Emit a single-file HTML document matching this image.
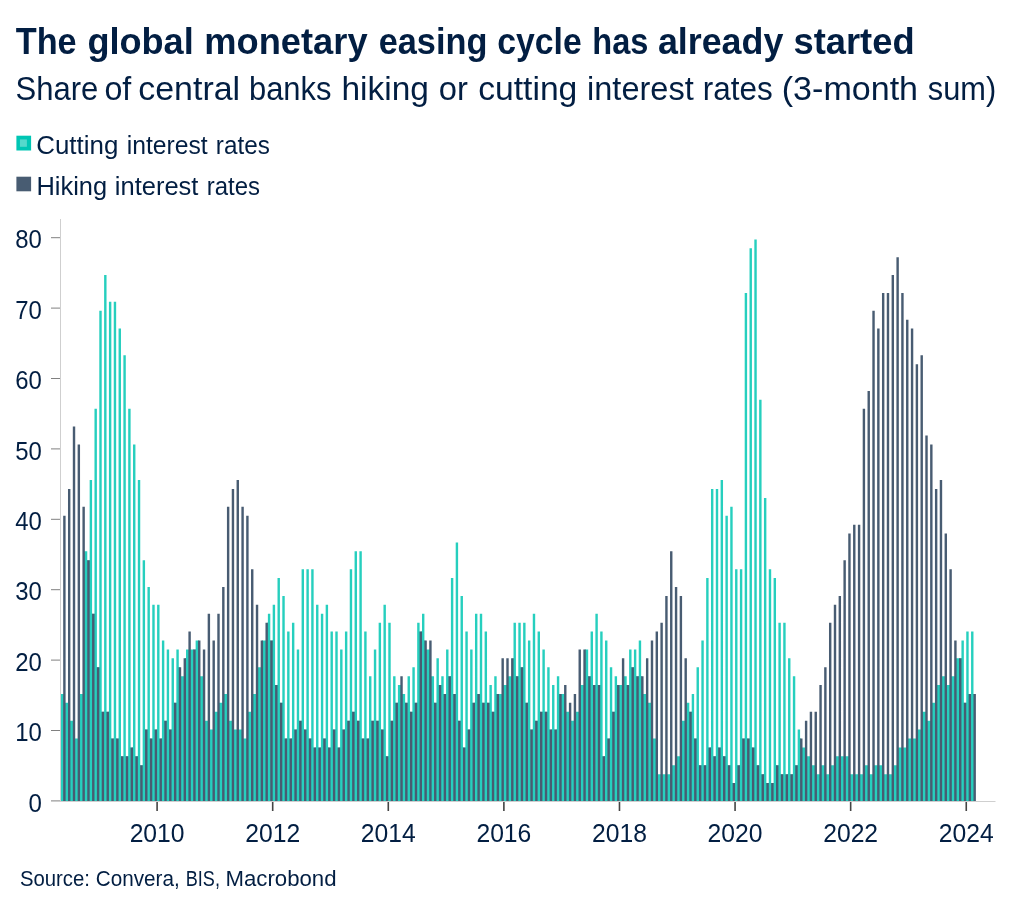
<!DOCTYPE html>
<html><head><meta charset="utf-8"><title>Global monetary easing</title>
<style>
html,body{margin:0;padding:0;background:#fff;}
body{width:1024px;height:912px;overflow:hidden;}
svg{display:block;font-family:"Liberation Sans",sans-serif;will-change:transform;}
</style></head><body>
<svg width="1024" height="912" viewBox="0 0 1024 912">
<rect width="1024" height="912" fill="#fff"/>
<g font-size="36" font-weight="bold" fill="#021e42"><text x="15.70" textLength="60.97" lengthAdjust="spacingAndGlyphs" y="54">The</text><text x="87.40" textLength="106.31" lengthAdjust="spacingAndGlyphs" y="54">global</text><text x="204.28" textLength="163.34" lengthAdjust="spacingAndGlyphs" y="54">monetary</text><text x="378.65" textLength="108.75" lengthAdjust="spacingAndGlyphs" y="54">easing</text><text x="497.26" textLength="84.50" lengthAdjust="spacingAndGlyphs" y="54">cycle</text><text x="592.29" textLength="56.13" lengthAdjust="spacingAndGlyphs" y="54">has</text><text x="657.91" textLength="125.42" lengthAdjust="spacingAndGlyphs" y="54">already</text><text x="793.49" textLength="121.12" lengthAdjust="spacingAndGlyphs" y="54">started</text></g>
<g font-size="33.5" fill="#021e42"><text x="15.57" textLength="82.81" lengthAdjust="spacingAndGlyphs" y="99.6">Share</text><text x="104.44" textLength="26.90" lengthAdjust="spacingAndGlyphs" y="99.6">of</text><text x="138.19" textLength="101.98" lengthAdjust="spacingAndGlyphs" y="99.6">central</text><text x="248.95" textLength="82.54" lengthAdjust="spacingAndGlyphs" y="99.6">banks</text><text x="341.50" textLength="87.43" lengthAdjust="spacingAndGlyphs" y="99.6">hiking</text><text x="438.82" textLength="29.13" lengthAdjust="spacingAndGlyphs" y="99.6">or</text><text x="478.20" textLength="99.14" lengthAdjust="spacingAndGlyphs" y="99.6">cutting</text><text x="587.06" textLength="106.67" lengthAdjust="spacingAndGlyphs" y="99.6">interest</text><text x="702.72" textLength="69.88" lengthAdjust="spacingAndGlyphs" y="99.6">rates</text><text x="781.77" textLength="136.29" lengthAdjust="spacingAndGlyphs" y="99.6">(3-month</text><text x="927.80" textLength="68.36" lengthAdjust="spacingAndGlyphs" y="99.6">sum)</text></g>
<rect x="16.4" y="135.7" width="14.7" height="14.8" fill="#00c6b4"/>
<rect x="19.9" y="139.4" width="7" height="7.4" fill="#55d9cc"/>
<rect x="16.4" y="176.7" width="14.7" height="14.6" fill="#485c72"/>
<g font-size="25" fill="#021e42"><text x="36.26" textLength="82.07" lengthAdjust="spacingAndGlyphs" y="153.6">Cutting</text><text x="126.71" textLength="80.93" lengthAdjust="spacingAndGlyphs" y="153.6">interest</text><text x="215.83" textLength="53.96" lengthAdjust="spacingAndGlyphs" y="153.6">rates</text></g>
<g font-size="25" fill="#021e42"><text x="36.47" textLength="70.65" lengthAdjust="spacingAndGlyphs" y="194.7">Hiking</text><text x="114.88" textLength="83.56" lengthAdjust="spacingAndGlyphs" y="194.7">interest</text><text x="206.74" textLength="53.24" lengthAdjust="spacingAndGlyphs" y="194.7">rates</text></g>
<path d="M60.77 693.96h2.41v106.94h-2.41zM62.98 693.96h1.2v106.94h-1.2zM65.59 702.87h2.41v98.03h-2.41zM67.79 702.87h1.2v98.03h-1.2zM64.59 702.87h1.2v98.03h-1.2zM70.4 720.69h2.41v80.21h-2.41zM72.61 720.69h1.2v80.21h-1.2zM69.4 720.69h1.2v80.21h-1.2zM75.22 738.52h2.41v62.38h-2.41zM77.43 738.52h1.2v62.38h-1.2zM74.22 738.52h1.2v62.38h-1.2zM80.04 693.96h2.41v106.94h-2.41zM82.24 693.96h1.2v106.94h-1.2zM79.04 693.96h1.2v106.94h-1.2zM84.85 551.36h2.41v249.54h-2.41zM87.06 560.28h1.2v240.62h-1.2zM83.85 551.36h1.2v249.54h-1.2zM89.67 480.07h2.41v320.83h-2.41zM91.88 613.75h1.2v187.15h-1.2zM88.67 560.28h1.2v240.62h-1.2zM94.48 408.77h2.41v392.13h-2.41zM96.69 667.22h1.2v133.68h-1.2zM93.48 613.75h1.2v187.15h-1.2zM99.3 310.74h2.41v490.16h-2.41zM101.51 711.78h1.2v89.12h-1.2zM98.3 667.22h1.2v133.68h-1.2zM104.12 275.09h2.41v525.81h-2.41zM106.33 711.78h1.2v89.12h-1.2zM103.12 711.78h1.2v89.12h-1.2zM108.93 301.83h2.41v499.07h-2.41zM111.14 738.52h1.2v62.38h-1.2zM107.93 711.78h1.2v89.12h-1.2zM113.75 301.83h2.41v499.07h-2.41zM115.96 738.52h1.2v62.38h-1.2zM112.75 738.52h1.2v62.38h-1.2zM118.57 328.56h2.41v472.34h-2.41zM120.77 756.34h1.2v44.56h-1.2zM117.57 738.52h1.2v62.38h-1.2zM123.38 355.3h2.41v445.6h-2.41zM125.59 756.34h1.2v44.56h-1.2zM122.38 756.34h1.2v44.56h-1.2zM128.2 408.77h2.41v392.13h-2.41zM130.41 747.43h1.2v53.47h-1.2zM127.2 756.34h1.2v44.56h-1.2zM133.02 444.42h2.41v356.48h-2.41zM135.22 756.34h1.2v44.56h-1.2zM132.02 747.43h1.2v53.47h-1.2zM137.83 480.07h2.41v320.83h-2.41zM140.04 765.25h1.2v35.65h-1.2zM136.83 756.34h1.2v44.56h-1.2zM142.65 560.28h2.41v240.62h-2.41zM144.86 729.6h1.2v71.3h-1.2zM141.65 765.25h1.2v35.65h-1.2zM147.47 587.01h2.41v213.89h-2.41zM149.67 738.52h1.2v62.38h-1.2zM146.47 729.6h1.2v71.3h-1.2zM152.28 604.84h2.41v196.06h-2.41zM154.49 729.6h1.2v71.3h-1.2zM151.28 738.52h1.2v62.38h-1.2zM157.1 604.84h2.41v196.06h-2.41zM159.31 738.52h1.2v62.38h-1.2zM156.1 729.6h1.2v71.3h-1.2zM161.91 640.48h2.41v160.42h-2.41zM164.12 720.69h1.2v80.21h-1.2zM160.91 738.52h1.2v62.38h-1.2zM166.73 649.4h2.41v151.5h-2.41zM168.94 729.6h1.2v71.3h-1.2zM165.73 720.69h1.2v80.21h-1.2zM171.55 658.31h2.41v142.59h-2.41zM173.76 702.87h1.2v98.03h-1.2zM170.55 729.6h1.2v71.3h-1.2zM176.36 649.4h2.41v151.5h-2.41zM178.57 667.22h1.2v133.68h-1.2zM175.36 702.87h1.2v98.03h-1.2zM181.18 676.13h2.41v124.77h-2.41zM183.39 676.13h1.2v124.77h-1.2zM180.18 676.13h1.2v124.77h-1.2zM186 649.4h2.41v151.5h-2.41zM188.2 649.4h1.2v151.5h-1.2zM185 658.31h1.2v142.59h-1.2zM190.81 649.4h2.41v151.5h-2.41zM193.02 649.4h1.2v151.5h-1.2zM189.81 649.4h1.2v151.5h-1.2zM195.63 640.48h2.41v160.42h-2.41zM197.84 640.48h1.2v160.42h-1.2zM194.63 649.4h1.2v151.5h-1.2zM200.45 676.13h2.41v124.77h-2.41zM202.65 676.13h1.2v124.77h-1.2zM199.45 676.13h1.2v124.77h-1.2zM205.26 720.69h2.41v80.21h-2.41zM207.47 720.69h1.2v80.21h-1.2zM204.26 720.69h1.2v80.21h-1.2zM210.08 729.6h2.41v71.3h-2.41zM212.29 729.6h1.2v71.3h-1.2zM209.08 729.6h1.2v71.3h-1.2zM214.89 711.78h2.41v89.12h-2.41zM217.1 711.78h1.2v89.12h-1.2zM213.89 711.78h1.2v89.12h-1.2zM219.71 702.87h2.41v98.03h-2.41zM221.92 702.87h1.2v98.03h-1.2zM218.71 702.87h1.2v98.03h-1.2zM224.53 693.96h2.41v106.94h-2.41zM226.74 693.96h1.2v106.94h-1.2zM223.53 693.96h1.2v106.94h-1.2zM229.34 720.69h2.41v80.21h-2.41zM231.55 720.69h1.2v80.21h-1.2zM228.34 720.69h1.2v80.21h-1.2zM234.16 729.6h2.41v71.3h-2.41zM236.37 729.6h1.2v71.3h-1.2zM233.16 729.6h1.2v71.3h-1.2zM238.98 729.6h2.41v71.3h-2.41zM241.18 729.6h1.2v71.3h-1.2zM237.98 729.6h1.2v71.3h-1.2zM243.79 738.52h2.41v62.38h-2.41zM246 738.52h1.2v62.38h-1.2zM242.79 738.52h1.2v62.38h-1.2zM248.61 711.78h2.41v89.12h-2.41zM250.82 711.78h1.2v89.12h-1.2zM247.61 711.78h1.2v89.12h-1.2zM253.43 693.96h2.41v106.94h-2.41zM255.63 693.96h1.2v106.94h-1.2zM252.43 693.96h1.2v106.94h-1.2zM258.24 667.22h2.41v133.68h-2.41zM260.45 667.22h1.2v133.68h-1.2zM257.24 667.22h1.2v133.68h-1.2zM263.06 640.48h2.41v160.42h-2.41zM265.27 640.48h1.2v160.42h-1.2zM262.06 640.48h1.2v160.42h-1.2zM267.88 613.75h2.41v187.15h-2.41zM270.08 640.48h1.2v160.42h-1.2zM266.88 622.66h1.2v178.24h-1.2zM272.69 604.84h2.41v196.06h-2.41zM274.9 685.04h1.2v115.86h-1.2zM271.69 640.48h1.2v160.42h-1.2zM277.51 578.1h2.41v222.8h-2.41zM279.72 702.87h1.2v98.03h-1.2zM276.51 685.04h1.2v115.86h-1.2zM282.32 595.92h2.41v204.98h-2.41zM284.53 738.52h1.2v62.38h-1.2zM281.32 702.87h1.2v98.03h-1.2zM287.14 631.57h2.41v169.33h-2.41zM289.35 738.52h1.2v62.38h-1.2zM286.14 738.52h1.2v62.38h-1.2zM291.96 622.66h2.41v178.24h-2.41zM294.17 729.6h1.2v71.3h-1.2zM290.96 738.52h1.2v62.38h-1.2zM296.77 649.4h2.41v151.5h-2.41zM298.98 720.69h1.2v80.21h-1.2zM295.77 729.6h1.2v71.3h-1.2zM301.59 569.19h2.41v231.71h-2.41zM303.8 729.6h1.2v71.3h-1.2zM300.59 720.69h1.2v80.21h-1.2zM306.41 569.19h2.41v231.71h-2.41zM308.61 738.52h1.2v62.38h-1.2zM305.41 729.6h1.2v71.3h-1.2zM311.22 569.19h2.41v231.71h-2.41zM313.43 747.43h1.2v53.47h-1.2zM310.22 738.52h1.2v62.38h-1.2zM316.04 604.84h2.41v196.06h-2.41zM318.25 747.43h1.2v53.47h-1.2zM315.04 747.43h1.2v53.47h-1.2zM320.86 613.75h2.41v187.15h-2.41zM323.06 738.52h1.2v62.38h-1.2zM319.86 747.43h1.2v53.47h-1.2zM325.67 604.84h2.41v196.06h-2.41zM327.88 747.43h1.2v53.47h-1.2zM324.67 738.52h1.2v62.38h-1.2zM330.49 631.57h2.41v169.33h-2.41zM332.7 729.6h1.2v71.3h-1.2zM329.49 747.43h1.2v53.47h-1.2zM335.3 631.57h2.41v169.33h-2.41zM337.51 747.43h1.2v53.47h-1.2zM334.3 729.6h1.2v71.3h-1.2zM340.12 649.4h2.41v151.5h-2.41zM342.33 729.6h1.2v71.3h-1.2zM339.12 747.43h1.2v53.47h-1.2zM344.94 631.57h2.41v169.33h-2.41zM347.15 720.69h1.2v80.21h-1.2zM343.94 729.6h1.2v71.3h-1.2zM349.75 569.19h2.41v231.71h-2.41zM351.96 711.78h1.2v89.12h-1.2zM348.75 720.69h1.2v80.21h-1.2zM354.57 551.36h2.41v249.54h-2.41zM356.78 720.69h1.2v80.21h-1.2zM353.57 711.78h1.2v89.12h-1.2zM359.39 551.36h2.41v249.54h-2.41zM361.59 738.52h1.2v62.38h-1.2zM358.39 720.69h1.2v80.21h-1.2zM364.2 631.57h2.41v169.33h-2.41zM366.41 738.52h1.2v62.38h-1.2zM363.2 738.52h1.2v62.38h-1.2zM369.02 676.13h2.41v124.77h-2.41zM371.23 720.69h1.2v80.21h-1.2zM368.02 738.52h1.2v62.38h-1.2zM373.84 649.4h2.41v151.5h-2.41zM376.04 720.69h1.2v80.21h-1.2zM372.84 720.69h1.2v80.21h-1.2zM378.65 622.66h2.41v178.24h-2.41zM380.86 729.6h1.2v71.3h-1.2zM377.65 720.69h1.2v80.21h-1.2zM383.47 604.84h2.41v196.06h-2.41zM385.68 756.34h1.2v44.56h-1.2zM382.47 729.6h1.2v71.3h-1.2zM388.29 622.66h2.41v178.24h-2.41zM390.49 720.69h1.2v80.21h-1.2zM387.29 756.34h1.2v44.56h-1.2zM393.1 676.13h2.41v124.77h-2.41zM395.31 702.87h1.2v98.03h-1.2zM392.1 720.69h1.2v80.21h-1.2zM397.92 685.04h2.41v115.86h-2.41zM400.13 685.04h1.2v115.86h-1.2zM396.92 702.87h1.2v98.03h-1.2zM402.73 693.96h2.41v106.94h-2.41zM404.94 702.87h1.2v98.03h-1.2zM401.73 693.96h1.2v106.94h-1.2zM407.55 676.13h2.41v124.77h-2.41zM409.76 711.78h1.2v89.12h-1.2zM406.55 702.87h1.2v98.03h-1.2zM412.37 667.22h2.41v133.68h-2.41zM414.58 702.87h1.2v98.03h-1.2zM411.37 711.78h1.2v89.12h-1.2zM417.18 622.66h2.41v178.24h-2.41zM419.39 631.57h1.2v169.33h-1.2zM416.18 702.87h1.2v98.03h-1.2zM422 613.75h2.41v187.15h-2.41zM424.21 640.48h1.2v160.42h-1.2zM421 631.57h1.2v169.33h-1.2zM426.82 649.4h2.41v151.5h-2.41zM429.02 649.4h1.2v151.5h-1.2zM425.82 649.4h1.2v151.5h-1.2zM431.63 676.13h2.41v124.77h-2.41zM433.84 702.87h1.2v98.03h-1.2zM430.63 676.13h1.2v124.77h-1.2zM436.45 658.31h2.41v142.59h-2.41zM438.66 685.04h1.2v115.86h-1.2zM435.45 702.87h1.2v98.03h-1.2zM441.27 676.13h2.41v124.77h-2.41zM443.47 693.96h1.2v106.94h-1.2zM440.27 685.04h1.2v115.86h-1.2zM446.08 649.4h2.41v151.5h-2.41zM448.29 676.13h1.2v124.77h-1.2zM445.08 693.96h1.2v106.94h-1.2zM450.9 578.1h2.41v222.8h-2.41zM453.11 693.96h1.2v106.94h-1.2zM449.9 676.13h1.2v124.77h-1.2zM455.71 542.45h2.41v258.45h-2.41zM457.92 720.69h1.2v80.21h-1.2zM454.71 693.96h1.2v106.94h-1.2zM460.53 595.92h2.41v204.98h-2.41zM462.74 747.43h1.2v53.47h-1.2zM459.53 720.69h1.2v80.21h-1.2zM465.35 631.57h2.41v169.33h-2.41zM467.56 729.6h1.2v71.3h-1.2zM464.35 747.43h1.2v53.47h-1.2zM470.16 649.4h2.41v151.5h-2.41zM472.37 702.87h1.2v98.03h-1.2zM469.16 729.6h1.2v71.3h-1.2zM474.98 613.75h2.41v187.15h-2.41zM477.19 693.96h1.2v106.94h-1.2zM473.98 702.87h1.2v98.03h-1.2zM479.8 613.75h2.41v187.15h-2.41zM482 702.87h1.2v98.03h-1.2zM478.8 693.96h1.2v106.94h-1.2zM484.61 631.57h2.41v169.33h-2.41zM486.82 702.87h1.2v98.03h-1.2zM483.61 702.87h1.2v98.03h-1.2zM489.43 685.04h2.41v115.86h-2.41zM491.64 711.78h1.2v89.12h-1.2zM488.43 702.87h1.2v98.03h-1.2zM494.25 676.13h2.41v124.77h-2.41zM496.45 693.96h1.2v106.94h-1.2zM493.25 711.78h1.2v89.12h-1.2zM499.06 693.96h2.41v106.94h-2.41zM501.27 693.96h1.2v106.94h-1.2zM498.06 693.96h1.2v106.94h-1.2zM503.88 685.04h2.41v115.86h-2.41zM506.09 685.04h1.2v115.86h-1.2zM502.88 685.04h1.2v115.86h-1.2zM508.7 676.13h2.41v124.77h-2.41zM510.9 676.13h1.2v124.77h-1.2zM507.7 676.13h1.2v124.77h-1.2zM513.51 622.66h2.41v178.24h-2.41zM515.72 676.13h1.2v124.77h-1.2zM512.51 658.31h1.2v142.59h-1.2zM518.33 622.66h2.41v178.24h-2.41zM520.54 667.22h1.2v133.68h-1.2zM517.33 676.13h1.2v124.77h-1.2zM523.14 622.66h2.41v178.24h-2.41zM525.35 702.87h1.2v98.03h-1.2zM522.14 667.22h1.2v133.68h-1.2zM527.96 640.48h2.41v160.42h-2.41zM530.17 729.6h1.2v71.3h-1.2zM526.96 702.87h1.2v98.03h-1.2zM532.78 613.75h2.41v187.15h-2.41zM534.99 720.69h1.2v80.21h-1.2zM531.78 729.6h1.2v71.3h-1.2zM537.59 631.57h2.41v169.33h-2.41zM539.8 711.78h1.2v89.12h-1.2zM536.59 720.69h1.2v80.21h-1.2zM542.41 649.4h2.41v151.5h-2.41zM544.62 711.78h1.2v89.12h-1.2zM541.41 711.78h1.2v89.12h-1.2zM547.23 667.22h2.41v133.68h-2.41zM549.43 729.6h1.2v71.3h-1.2zM546.23 711.78h1.2v89.12h-1.2zM552.04 685.04h2.41v115.86h-2.41zM554.25 729.6h1.2v71.3h-1.2zM551.04 729.6h1.2v71.3h-1.2zM556.86 676.13h2.41v124.77h-2.41zM559.07 693.96h1.2v106.94h-1.2zM555.86 729.6h1.2v71.3h-1.2zM561.68 693.96h2.41v106.94h-2.41zM563.88 693.96h1.2v106.94h-1.2zM560.68 693.96h1.2v106.94h-1.2zM566.49 711.78h2.41v89.12h-2.41zM568.7 711.78h1.2v89.12h-1.2zM565.49 711.78h1.2v89.12h-1.2zM571.31 720.69h2.41v80.21h-2.41zM573.52 720.69h1.2v80.21h-1.2zM570.31 720.69h1.2v80.21h-1.2zM576.12 711.78h2.41v89.12h-2.41zM578.33 711.78h1.2v89.12h-1.2zM575.12 711.78h1.2v89.12h-1.2zM580.94 685.04h2.41v115.86h-2.41zM583.15 685.04h1.2v115.86h-1.2zM579.94 685.04h1.2v115.86h-1.2zM585.76 649.4h2.41v151.5h-2.41zM587.97 676.13h1.2v124.77h-1.2zM584.76 649.4h1.2v151.5h-1.2zM590.57 631.57h2.41v169.33h-2.41zM592.78 685.04h1.2v115.86h-1.2zM589.57 676.13h1.2v124.77h-1.2zM595.39 613.75h2.41v187.15h-2.41zM597.6 685.04h1.2v115.86h-1.2zM594.39 685.04h1.2v115.86h-1.2zM600.21 631.57h2.41v169.33h-2.41zM602.41 756.34h1.2v44.56h-1.2zM599.21 685.04h1.2v115.86h-1.2zM605.02 640.48h2.41v160.42h-2.41zM607.23 738.52h1.2v62.38h-1.2zM604.02 756.34h1.2v44.56h-1.2zM609.84 667.22h2.41v133.68h-2.41zM612.05 711.78h1.2v89.12h-1.2zM608.84 738.52h1.2v62.38h-1.2zM614.66 676.13h2.41v124.77h-2.41zM616.86 685.04h1.2v115.86h-1.2zM613.66 711.78h1.2v89.12h-1.2zM619.47 685.04h2.41v115.86h-2.41zM621.68 685.04h1.2v115.86h-1.2zM618.47 685.04h1.2v115.86h-1.2zM624.29 676.13h2.41v124.77h-2.41zM626.5 685.04h1.2v115.86h-1.2zM623.29 676.13h1.2v124.77h-1.2zM629.11 649.4h2.41v151.5h-2.41zM631.31 667.22h1.2v133.68h-1.2zM628.11 685.04h1.2v115.86h-1.2zM633.92 649.4h2.41v151.5h-2.41zM636.13 676.13h1.2v124.77h-1.2zM632.92 667.22h1.2v133.68h-1.2zM638.74 640.48h2.41v160.42h-2.41zM640.95 676.13h1.2v124.77h-1.2zM637.74 676.13h1.2v124.77h-1.2zM643.55 693.96h2.41v106.94h-2.41zM645.76 693.96h1.2v106.94h-1.2zM642.55 693.96h1.2v106.94h-1.2zM648.37 702.87h2.41v98.03h-2.41zM650.58 702.87h1.2v98.03h-1.2zM647.37 702.87h1.2v98.03h-1.2zM653.19 738.52h2.41v62.38h-2.41zM655.4 738.52h1.2v62.38h-1.2zM652.19 738.52h1.2v62.38h-1.2zM658 774.16h2.41v26.74h-2.41zM660.21 774.16h1.2v26.74h-1.2zM657 774.16h1.2v26.74h-1.2zM662.82 774.16h2.41v26.74h-2.41zM665.03 774.16h1.2v26.74h-1.2zM661.82 774.16h1.2v26.74h-1.2zM667.64 774.16h2.41v26.74h-2.41zM669.84 774.16h1.2v26.74h-1.2zM666.64 774.16h1.2v26.74h-1.2zM672.45 765.25h2.41v35.65h-2.41zM674.66 765.25h1.2v35.65h-1.2zM671.45 765.25h1.2v35.65h-1.2zM677.27 756.34h2.41v44.56h-2.41zM679.48 756.34h1.2v44.56h-1.2zM676.27 756.34h1.2v44.56h-1.2zM682.09 720.69h2.41v80.21h-2.41zM684.29 720.69h1.2v80.21h-1.2zM681.09 720.69h1.2v80.21h-1.2zM686.9 702.87h2.41v98.03h-2.41zM689.11 711.78h1.2v89.12h-1.2zM685.9 702.87h1.2v98.03h-1.2zM691.72 693.96h2.41v106.94h-2.41zM693.93 738.52h1.2v62.38h-1.2zM690.72 711.78h1.2v89.12h-1.2zM696.53 667.22h2.41v133.68h-2.41zM698.74 765.25h1.2v35.65h-1.2zM695.53 738.52h1.2v62.38h-1.2zM701.35 640.48h2.41v160.42h-2.41zM703.56 765.25h1.2v35.65h-1.2zM700.35 765.25h1.2v35.65h-1.2zM706.17 578.1h2.41v222.8h-2.41zM708.38 747.43h1.2v53.47h-1.2zM705.17 765.25h1.2v35.65h-1.2zM710.98 488.98h2.41v311.92h-2.41zM713.19 756.34h1.2v44.56h-1.2zM709.98 747.43h1.2v53.47h-1.2zM715.8 488.98h2.41v311.92h-2.41zM718.01 747.43h1.2v53.47h-1.2zM714.8 756.34h1.2v44.56h-1.2zM720.62 480.07h2.41v320.83h-2.41zM722.82 756.34h1.2v44.56h-1.2zM719.62 747.43h1.2v53.47h-1.2zM725.43 515.72h2.41v285.18h-2.41zM727.64 765.25h1.2v35.65h-1.2zM724.43 756.34h1.2v44.56h-1.2zM730.25 506.8h2.41v294.1h-2.41zM732.46 783.08h1.2v17.82h-1.2zM729.25 765.25h1.2v35.65h-1.2zM735.07 569.19h2.41v231.71h-2.41zM737.27 765.25h1.2v35.65h-1.2zM734.07 783.08h1.2v17.82h-1.2zM739.88 569.19h2.41v231.71h-2.41zM742.09 738.52h1.2v62.38h-1.2zM738.88 765.25h1.2v35.65h-1.2zM744.7 292.92h2.41v507.98h-2.41zM746.91 738.52h1.2v62.38h-1.2zM743.7 738.52h1.2v62.38h-1.2zM749.52 248.36h2.41v552.54h-2.41zM751.72 747.43h1.2v53.47h-1.2zM748.52 738.52h1.2v62.38h-1.2zM754.33 239.44h2.41v561.46h-2.41zM756.54 765.25h1.2v35.65h-1.2zM753.33 747.43h1.2v53.47h-1.2zM759.15 399.86h2.41v401.04h-2.41zM761.36 774.16h1.2v26.74h-1.2zM758.15 765.25h1.2v35.65h-1.2zM763.96 497.89h2.41v303.01h-2.41zM766.17 783.08h1.2v17.82h-1.2zM762.96 774.16h1.2v26.74h-1.2zM768.78 569.19h2.41v231.71h-2.41zM770.99 783.08h1.2v17.82h-1.2zM767.78 783.08h1.2v17.82h-1.2zM773.6 578.1h2.41v222.8h-2.41zM775.81 765.25h1.2v35.65h-1.2zM772.6 783.08h1.2v17.82h-1.2zM778.41 622.66h2.41v178.24h-2.41zM780.62 774.16h1.2v26.74h-1.2zM777.41 765.25h1.2v35.65h-1.2zM783.23 622.66h2.41v178.24h-2.41zM785.44 774.16h1.2v26.74h-1.2zM782.23 774.16h1.2v26.74h-1.2zM788.05 658.31h2.41v142.59h-2.41zM790.25 774.16h1.2v26.74h-1.2zM787.05 774.16h1.2v26.74h-1.2zM792.86 676.13h2.41v124.77h-2.41zM795.07 765.25h1.2v35.65h-1.2zM791.86 774.16h1.2v26.74h-1.2zM797.68 729.6h2.41v71.3h-2.41zM799.89 738.52h1.2v62.38h-1.2zM796.68 765.25h1.2v35.65h-1.2zM802.5 747.43h2.41v53.47h-2.41zM804.7 747.43h1.2v53.47h-1.2zM801.5 747.43h1.2v53.47h-1.2zM807.31 756.34h2.41v44.56h-2.41zM809.52 756.34h1.2v44.56h-1.2zM806.31 756.34h1.2v44.56h-1.2zM812.13 765.25h2.41v35.65h-2.41zM814.34 765.25h1.2v35.65h-1.2zM811.13 765.25h1.2v35.65h-1.2zM816.94 774.16h2.41v26.74h-2.41zM819.15 774.16h1.2v26.74h-1.2zM815.94 774.16h1.2v26.74h-1.2zM821.76 765.25h2.41v35.65h-2.41zM823.97 765.25h1.2v35.65h-1.2zM820.76 765.25h1.2v35.65h-1.2zM826.58 774.16h2.41v26.74h-2.41zM828.79 774.16h1.2v26.74h-1.2zM825.58 774.16h1.2v26.74h-1.2zM831.39 765.25h2.41v35.65h-2.41zM833.6 765.25h1.2v35.65h-1.2zM830.39 765.25h1.2v35.65h-1.2zM836.21 756.34h2.41v44.56h-2.41zM838.42 756.34h1.2v44.56h-1.2zM835.21 756.34h1.2v44.56h-1.2zM841.03 756.34h2.41v44.56h-2.41zM843.23 756.34h1.2v44.56h-1.2zM840.03 756.34h1.2v44.56h-1.2zM845.84 756.34h2.41v44.56h-2.41zM848.05 756.34h1.2v44.56h-1.2zM844.84 756.34h1.2v44.56h-1.2zM850.66 774.16h2.41v26.74h-2.41zM852.87 774.16h1.2v26.74h-1.2zM849.66 774.16h1.2v26.74h-1.2zM855.48 774.16h2.41v26.74h-2.41zM857.68 774.16h1.2v26.74h-1.2zM854.48 774.16h1.2v26.74h-1.2zM860.29 774.16h2.41v26.74h-2.41zM862.5 774.16h1.2v26.74h-1.2zM859.29 774.16h1.2v26.74h-1.2zM865.11 765.25h2.41v35.65h-2.41zM867.32 765.25h1.2v35.65h-1.2zM864.11 765.25h1.2v35.65h-1.2zM869.93 774.16h2.41v26.74h-2.41zM872.13 774.16h1.2v26.74h-1.2zM868.93 774.16h1.2v26.74h-1.2zM874.74 765.25h2.41v35.65h-2.41zM876.95 765.25h1.2v35.65h-1.2zM873.74 765.25h1.2v35.65h-1.2zM879.56 765.25h2.41v35.65h-2.41zM881.77 765.25h1.2v35.65h-1.2zM878.56 765.25h1.2v35.65h-1.2zM884.37 774.16h2.41v26.74h-2.41zM886.58 774.16h1.2v26.74h-1.2zM883.37 774.16h1.2v26.74h-1.2zM889.19 774.16h2.41v26.74h-2.41zM891.4 774.16h1.2v26.74h-1.2zM888.19 774.16h1.2v26.74h-1.2zM894.01 765.25h2.41v35.65h-2.41zM896.22 765.25h1.2v35.65h-1.2zM893.01 765.25h1.2v35.65h-1.2zM898.82 747.43h2.41v53.47h-2.41zM901.03 747.43h1.2v53.47h-1.2zM897.82 747.43h1.2v53.47h-1.2zM903.64 747.43h2.41v53.47h-2.41zM905.85 747.43h1.2v53.47h-1.2zM902.64 747.43h1.2v53.47h-1.2zM908.46 738.52h2.41v62.38h-2.41zM910.66 738.52h1.2v62.38h-1.2zM907.46 738.52h1.2v62.38h-1.2zM913.27 738.52h2.41v62.38h-2.41zM915.48 738.52h1.2v62.38h-1.2zM912.27 738.52h1.2v62.38h-1.2zM918.09 729.6h2.41v71.3h-2.41zM920.3 729.6h1.2v71.3h-1.2zM917.09 729.6h1.2v71.3h-1.2zM922.91 711.78h2.41v89.12h-2.41zM925.11 711.78h1.2v89.12h-1.2zM921.91 711.78h1.2v89.12h-1.2zM927.72 720.69h2.41v80.21h-2.41zM929.93 720.69h1.2v80.21h-1.2zM926.72 720.69h1.2v80.21h-1.2zM932.54 702.87h2.41v98.03h-2.41zM934.75 702.87h1.2v98.03h-1.2zM931.54 702.87h1.2v98.03h-1.2zM937.35 685.04h2.41v115.86h-2.41zM939.56 685.04h1.2v115.86h-1.2zM936.35 685.04h1.2v115.86h-1.2zM942.17 676.13h2.41v124.77h-2.41zM944.38 676.13h1.2v124.77h-1.2zM941.17 676.13h1.2v124.77h-1.2zM946.99 685.04h2.41v115.86h-2.41zM949.2 685.04h1.2v115.86h-1.2zM945.99 685.04h1.2v115.86h-1.2zM951.8 676.13h2.41v124.77h-2.41zM954.01 676.13h1.2v124.77h-1.2zM950.8 676.13h1.2v124.77h-1.2zM956.62 658.31h2.41v142.59h-2.41zM958.83 658.31h1.2v142.59h-1.2zM955.62 658.31h1.2v142.59h-1.2zM961.44 640.48h2.41v160.42h-2.41zM963.64 702.87h1.2v98.03h-1.2zM960.44 658.31h1.2v142.59h-1.2zM966.25 631.57h2.41v169.33h-2.41zM968.46 693.96h1.2v106.94h-1.2zM965.25 702.87h1.2v98.03h-1.2zM971.07 631.57h2.41v169.33h-2.41zM973.28 693.96h1.2v106.94h-1.2zM970.07 693.96h1.2v106.94h-1.2z" fill="#26cfbe"/>
<path d="M63.18 515.72h2.41v285.18h-2.41zM67.99 488.98h2.41v311.92h-2.41zM72.81 426.6h2.41v374.3h-2.41zM77.63 444.42h2.41v356.48h-2.41zM82.44 506.8h2.41v294.1h-2.41zM87.26 560.28h2.41v240.62h-2.41zM92.08 613.75h2.41v187.15h-2.41zM96.89 667.22h2.41v133.68h-2.41zM101.71 711.78h2.41v89.12h-2.41zM106.53 711.78h2.41v89.12h-2.41zM111.34 738.52h2.41v62.38h-2.41zM116.16 738.52h2.41v62.38h-2.41zM120.97 756.34h2.41v44.56h-2.41zM125.79 756.34h2.41v44.56h-2.41zM130.61 747.43h2.41v53.47h-2.41zM135.42 756.34h2.41v44.56h-2.41zM140.24 765.25h2.41v35.65h-2.41zM145.06 729.6h2.41v71.3h-2.41zM149.87 738.52h2.41v62.38h-2.41zM154.69 729.6h2.41v71.3h-2.41zM159.51 738.52h2.41v62.38h-2.41zM164.32 720.69h2.41v80.21h-2.41zM169.14 729.6h2.41v71.3h-2.41zM173.96 702.87h2.41v98.03h-2.41zM178.77 667.22h2.41v133.68h-2.41zM183.59 658.31h2.41v142.59h-2.41zM188.4 631.57h2.41v169.33h-2.41zM193.22 649.4h2.41v151.5h-2.41zM198.04 640.48h2.41v160.42h-2.41zM202.85 649.4h2.41v151.5h-2.41zM207.67 613.75h2.41v187.15h-2.41zM212.49 640.48h2.41v160.42h-2.41zM217.3 613.75h2.41v187.15h-2.41zM222.12 587.01h2.41v213.89h-2.41zM226.94 506.8h2.41v294.1h-2.41zM231.75 488.98h2.41v311.92h-2.41zM236.57 480.07h2.41v320.83h-2.41zM241.38 506.8h2.41v294.1h-2.41zM246.2 515.72h2.41v285.18h-2.41zM251.02 569.19h2.41v231.71h-2.41zM255.83 604.84h2.41v196.06h-2.41zM260.65 640.48h2.41v160.42h-2.41zM265.47 622.66h2.41v178.24h-2.41zM270.28 640.48h2.41v160.42h-2.41zM275.1 685.04h2.41v115.86h-2.41zM279.92 702.87h2.41v98.03h-2.41zM284.73 738.52h2.41v62.38h-2.41zM289.55 738.52h2.41v62.38h-2.41zM294.37 729.6h2.41v71.3h-2.41zM299.18 720.69h2.41v80.21h-2.41zM304 729.6h2.41v71.3h-2.41zM308.81 738.52h2.41v62.38h-2.41zM313.63 747.43h2.41v53.47h-2.41zM318.45 747.43h2.41v53.47h-2.41zM323.26 738.52h2.41v62.38h-2.41zM328.08 747.43h2.41v53.47h-2.41zM332.9 729.6h2.41v71.3h-2.41zM337.71 747.43h2.41v53.47h-2.41zM342.53 729.6h2.41v71.3h-2.41zM347.35 720.69h2.41v80.21h-2.41zM352.16 711.78h2.41v89.12h-2.41zM356.98 720.69h2.41v80.21h-2.41zM361.79 738.52h2.41v62.38h-2.41zM366.61 738.52h2.41v62.38h-2.41zM371.43 720.69h2.41v80.21h-2.41zM376.24 720.69h2.41v80.21h-2.41zM381.06 729.6h2.41v71.3h-2.41zM385.88 756.34h2.41v44.56h-2.41zM390.69 720.69h2.41v80.21h-2.41zM395.51 702.87h2.41v98.03h-2.41zM400.33 676.13h2.41v124.77h-2.41zM405.14 702.87h2.41v98.03h-2.41zM409.96 711.78h2.41v89.12h-2.41zM414.78 702.87h2.41v98.03h-2.41zM419.59 631.57h2.41v169.33h-2.41zM424.41 640.48h2.41v160.42h-2.41zM429.22 640.48h2.41v160.42h-2.41zM434.04 702.87h2.41v98.03h-2.41zM438.86 685.04h2.41v115.86h-2.41zM443.67 693.96h2.41v106.94h-2.41zM448.49 676.13h2.41v124.77h-2.41zM453.31 693.96h2.41v106.94h-2.41zM458.12 720.69h2.41v80.21h-2.41zM462.94 747.43h2.41v53.47h-2.41zM467.76 729.6h2.41v71.3h-2.41zM472.57 702.87h2.41v98.03h-2.41zM477.39 693.96h2.41v106.94h-2.41zM482.2 702.87h2.41v98.03h-2.41zM487.02 702.87h2.41v98.03h-2.41zM491.84 711.78h2.41v89.12h-2.41zM496.65 693.96h2.41v106.94h-2.41zM501.47 658.31h2.41v142.59h-2.41zM506.29 658.31h2.41v142.59h-2.41zM511.1 658.31h2.41v142.59h-2.41zM515.92 676.13h2.41v124.77h-2.41zM520.74 667.22h2.41v133.68h-2.41zM525.55 702.87h2.41v98.03h-2.41zM530.37 729.6h2.41v71.3h-2.41zM535.19 720.69h2.41v80.21h-2.41zM540 711.78h2.41v89.12h-2.41zM544.82 711.78h2.41v89.12h-2.41zM549.63 729.6h2.41v71.3h-2.41zM554.45 729.6h2.41v71.3h-2.41zM559.27 693.96h2.41v106.94h-2.41zM564.08 685.04h2.41v115.86h-2.41zM568.9 702.87h2.41v98.03h-2.41zM573.72 693.96h2.41v106.94h-2.41zM578.53 649.4h2.41v151.5h-2.41zM583.35 649.4h2.41v151.5h-2.41zM588.17 676.13h2.41v124.77h-2.41zM592.98 685.04h2.41v115.86h-2.41zM597.8 685.04h2.41v115.86h-2.41zM602.61 756.34h2.41v44.56h-2.41zM607.43 738.52h2.41v62.38h-2.41zM612.25 711.78h2.41v89.12h-2.41zM617.06 685.04h2.41v115.86h-2.41zM621.88 658.31h2.41v142.59h-2.41zM626.7 685.04h2.41v115.86h-2.41zM631.51 667.22h2.41v133.68h-2.41zM636.33 676.13h2.41v124.77h-2.41zM641.15 676.13h2.41v124.77h-2.41zM645.96 658.31h2.41v142.59h-2.41zM650.78 640.48h2.41v160.42h-2.41zM655.6 631.57h2.41v169.33h-2.41zM660.41 622.66h2.41v178.24h-2.41zM665.23 595.92h2.41v204.98h-2.41zM670.04 551.36h2.41v249.54h-2.41zM674.86 587.01h2.41v213.89h-2.41zM679.68 595.92h2.41v204.98h-2.41zM684.49 658.31h2.41v142.59h-2.41zM689.31 711.78h2.41v89.12h-2.41zM694.13 738.52h2.41v62.38h-2.41zM698.94 765.25h2.41v35.65h-2.41zM703.76 765.25h2.41v35.65h-2.41zM708.58 747.43h2.41v53.47h-2.41zM713.39 756.34h2.41v44.56h-2.41zM718.21 747.43h2.41v53.47h-2.41zM723.02 756.34h2.41v44.56h-2.41zM727.84 765.25h2.41v35.65h-2.41zM732.66 783.08h2.41v17.82h-2.41zM737.47 765.25h2.41v35.65h-2.41zM742.29 738.52h2.41v62.38h-2.41zM747.11 738.52h2.41v62.38h-2.41zM751.92 747.43h2.41v53.47h-2.41zM756.74 765.25h2.41v35.65h-2.41zM761.56 774.16h2.41v26.74h-2.41zM766.37 783.08h2.41v17.82h-2.41zM771.19 783.08h2.41v17.82h-2.41zM776.01 765.25h2.41v35.65h-2.41zM780.82 774.16h2.41v26.74h-2.41zM785.64 774.16h2.41v26.74h-2.41zM790.45 774.16h2.41v26.74h-2.41zM795.27 765.25h2.41v35.65h-2.41zM800.09 738.52h2.41v62.38h-2.41zM804.9 720.69h2.41v80.21h-2.41zM809.72 711.78h2.41v89.12h-2.41zM814.54 711.78h2.41v89.12h-2.41zM819.35 685.04h2.41v115.86h-2.41zM824.17 667.22h2.41v133.68h-2.41zM828.99 622.66h2.41v178.24h-2.41zM833.8 604.84h2.41v196.06h-2.41zM838.62 595.92h2.41v204.98h-2.41zM843.43 560.28h2.41v240.62h-2.41zM848.25 533.54h2.41v267.36h-2.41zM853.07 524.63h2.41v276.27h-2.41zM857.88 524.63h2.41v276.27h-2.41zM862.7 408.77h2.41v392.13h-2.41zM867.52 390.95h2.41v409.95h-2.41zM872.33 310.74h2.41v490.16h-2.41zM877.15 328.56h2.41v472.34h-2.41zM881.97 292.92h2.41v507.98h-2.41zM886.78 292.92h2.41v507.98h-2.41zM891.6 275.09h2.41v525.81h-2.41zM896.42 257.27h2.41v543.63h-2.41zM901.23 292.92h2.41v507.98h-2.41zM906.05 319.65h2.41v481.25h-2.41zM910.86 328.56h2.41v472.34h-2.41zM915.68 364.21h2.41v436.69h-2.41zM920.5 355.3h2.41v445.6h-2.41zM925.31 435.51h2.41v365.39h-2.41zM930.13 444.42h2.41v356.48h-2.41zM934.95 488.98h2.41v311.92h-2.41zM939.76 480.07h2.41v320.83h-2.41zM944.58 533.54h2.41v267.36h-2.41zM949.4 569.19h2.41v231.71h-2.41zM954.21 640.48h2.41v160.42h-2.41zM959.03 658.31h2.41v142.59h-2.41zM963.84 702.87h2.41v98.03h-2.41zM968.66 693.96h2.41v106.94h-2.41zM973.48 693.96h2.41v106.94h-2.41z" fill="#485c72"/>
<path d="M60.5 219V801.5M60 801.5H995.5" stroke="#cfcfcf" stroke-width="1" fill="none"/>
<path d="M51 800.9H60M51 730.5H60M51 660.1H60M51 589.7H60M51 519.3H60M51 448.9H60M51 378.5H60M51 308.1H60M51 237.7H60" stroke="#808080" stroke-width="1" fill="none"/>
<path d="M157.1 802V811M272.69 802V811M388.29 802V811M503.88 802V811M619.48 802V811M735.07 802V811M850.66 802V811M966.26 802V811" stroke="#444" stroke-width="1.6" fill="none"/>
<g font-size="26.2" fill="#021e42">
<text x="41.8" y="811.5" text-anchor="end" textLength="13.4" lengthAdjust="spacingAndGlyphs">0</text><text x="41.8" y="741.1" text-anchor="end" textLength="26.6" lengthAdjust="spacingAndGlyphs">10</text><text x="41.8" y="670.7" text-anchor="end" textLength="26.6" lengthAdjust="spacingAndGlyphs">20</text><text x="41.8" y="600.3" text-anchor="end" textLength="26.6" lengthAdjust="spacingAndGlyphs">30</text><text x="41.8" y="529.9" text-anchor="end" textLength="26.6" lengthAdjust="spacingAndGlyphs">40</text><text x="41.8" y="459.5" text-anchor="end" textLength="26.6" lengthAdjust="spacingAndGlyphs">50</text><text x="41.8" y="389.1" text-anchor="end" textLength="26.6" lengthAdjust="spacingAndGlyphs">60</text><text x="41.8" y="318.7" text-anchor="end" textLength="26.6" lengthAdjust="spacingAndGlyphs">70</text><text x="41.8" y="248.3" text-anchor="end" textLength="26.6" lengthAdjust="spacingAndGlyphs">80</text>
<text x="157.1" y="842" text-anchor="middle" textLength="54.9" lengthAdjust="spacingAndGlyphs">2010</text><text x="272.69" y="842" text-anchor="middle" textLength="54.9" lengthAdjust="spacingAndGlyphs">2012</text><text x="388.29" y="842" text-anchor="middle" textLength="54.9" lengthAdjust="spacingAndGlyphs">2014</text><text x="503.88" y="842" text-anchor="middle" textLength="54.9" lengthAdjust="spacingAndGlyphs">2016</text><text x="619.48" y="842" text-anchor="middle" textLength="54.9" lengthAdjust="spacingAndGlyphs">2018</text><text x="735.07" y="842" text-anchor="middle" textLength="54.9" lengthAdjust="spacingAndGlyphs">2020</text><text x="850.66" y="842" text-anchor="middle" textLength="54.9" lengthAdjust="spacingAndGlyphs">2022</text><text x="966.26" y="842" text-anchor="middle" textLength="54.9" lengthAdjust="spacingAndGlyphs">2024</text>
</g>
<g font-size="22" fill="#021e42"><text x="19.88" textLength="70.05" lengthAdjust="spacingAndGlyphs" y="886">Source:</text><text x="95.76" textLength="83.88" lengthAdjust="spacingAndGlyphs" y="886">Convera,</text><text x="185.78" textLength="34.13" lengthAdjust="spacingAndGlyphs" y="886">BIS,</text><text x="225.49" textLength="111.06" lengthAdjust="spacingAndGlyphs" y="886">Macrobond</text></g>
</svg>
</body></html>
